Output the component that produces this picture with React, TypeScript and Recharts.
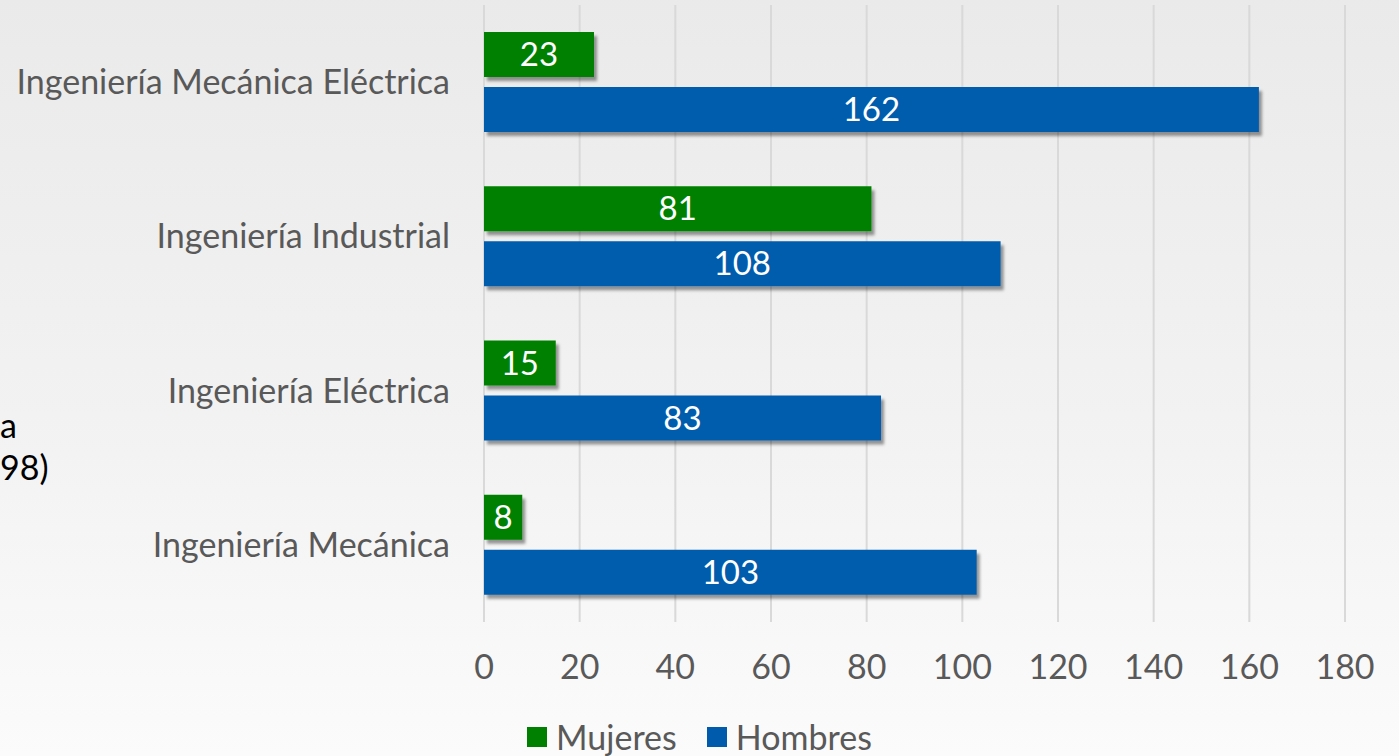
import React from 'react';
import { BarChart, Bar, XAxis, YAxis, CartesianGrid, Legend, LabelList } from 'recharts';

const categories = [
  'Ingeniería Mecánica Eléctrica',
  'Ingeniería Industrial',
  'Ingeniería Eléctrica',
  'Ingeniería Mecánica',
];
const mujeres = [23, 81, 15, 8];
const hombres = [162, 108, 83, 103];
const xTicks = [0, 20, 40, 60, 80, 100, 120, 140, 160, 180];
const seriesNames = ['Mujeres', 'Hombres'];
const seriesColors = ['#008000', '#005BAC'];

const data = categories.map((name, i) => ({ name, Mujeres: mujeres[i], Hombres: hombres[i] }));

const FONT = 'Lato, "Open Sans", sans-serif';

const LegendContent = () => (
  <div style={{ display: 'flex', justifyContent: 'center', fontFamily: FONT, fontSize: 34, color: '#595959' }}>
    {seriesNames.map((s, i) => (
      <div key={s} style={{ display: 'flex', alignItems: 'center', marginRight: i === 0 ? 30 : 0 }}>
        <span style={{ width: 20, height: 20, background: seriesColors[i], display: 'inline-block', marginRight: 9 }} />
        <span>{s}</span>
      </div>
    ))}
  </div>
);

export default function App() {
  return (
    <div
      style={{
        position: 'absolute',
        top: 0,
        left: 0,
        width: 1399,
        height: 756,
        overflow: 'hidden',
        background: 'linear-gradient(180deg, #eaeaea 0%, #f2f2f2 55%, #fbfbfb 100%)',
        fontFamily: FONT,
      }}
    >
      <div style={{ position: 'absolute', left: 0, top: 404, fontSize: 34, color: '#000', whiteSpace: 'nowrap' }}>a</div>
      <div style={{ position: 'absolute', left: 0, top: 446, fontSize: 34, color: '#000', whiteSpace: 'nowrap' }}>98)</div>
      <BarChart
        width={1399}
        height={756}
        data={data}
        layout="vertical"
        margin={{ top: 5, right: 54, left: 0, bottom: 54 }}
        barCategoryGap="17%"
        barGap={10}
        style={{ position: 'absolute', top: 0, left: 0 }}
      >
        <defs>
          <filter id="barShadow" x="-10%" y="-30%" width="130%" height="170%">
            <feDropShadow dx="3" dy="4" stdDeviation="1.8" floodColor="#000" floodOpacity="0.4" />
          </filter>
        </defs>
        <CartesianGrid horizontal={false} stroke="#d9d9d9" strokeWidth={2} />
        <XAxis
          type="number"
          domain={[0, 180]}
          ticks={xTicks}
          axisLine={false}
          tickLine={false}
          tickSize={0}
          tickMargin={33}
          height={80}
          tick={{ fontSize: 34, fill: '#595959', fontFamily: FONT }}
        />
        <YAxis
          type="category"
          dataKey="name"
          width={484}
          axisLine={false}
          tickLine={false}
          tickSize={0}
          tickMargin={34}
          tick={{ fontSize: 34, fill: '#595959', fontFamily: FONT }}
        />
        <Legend layout="horizontal" verticalAlign="middle" align="center" content={<LegendContent />} wrapperStyle={{ top: 716, left: 0, width: 1399 }} />
        <Bar dataKey="Mujeres" fill={seriesColors[0]} barSize={45} isAnimationActive={false} filter="url(#barShadow)">
          <LabelList dataKey="Mujeres" position="center" fill="#fff" fontSize={33} fontFamily={FONT} />
        </Bar>
        <Bar dataKey="Hombres" fill={seriesColors[1]} barSize={45} isAnimationActive={false} filter="url(#barShadow)">
          <LabelList dataKey="Hombres" position="center" fill="#fff" fontSize={33} fontFamily={FONT} />
        </Bar>
      </BarChart>
    </div>
  );
}
